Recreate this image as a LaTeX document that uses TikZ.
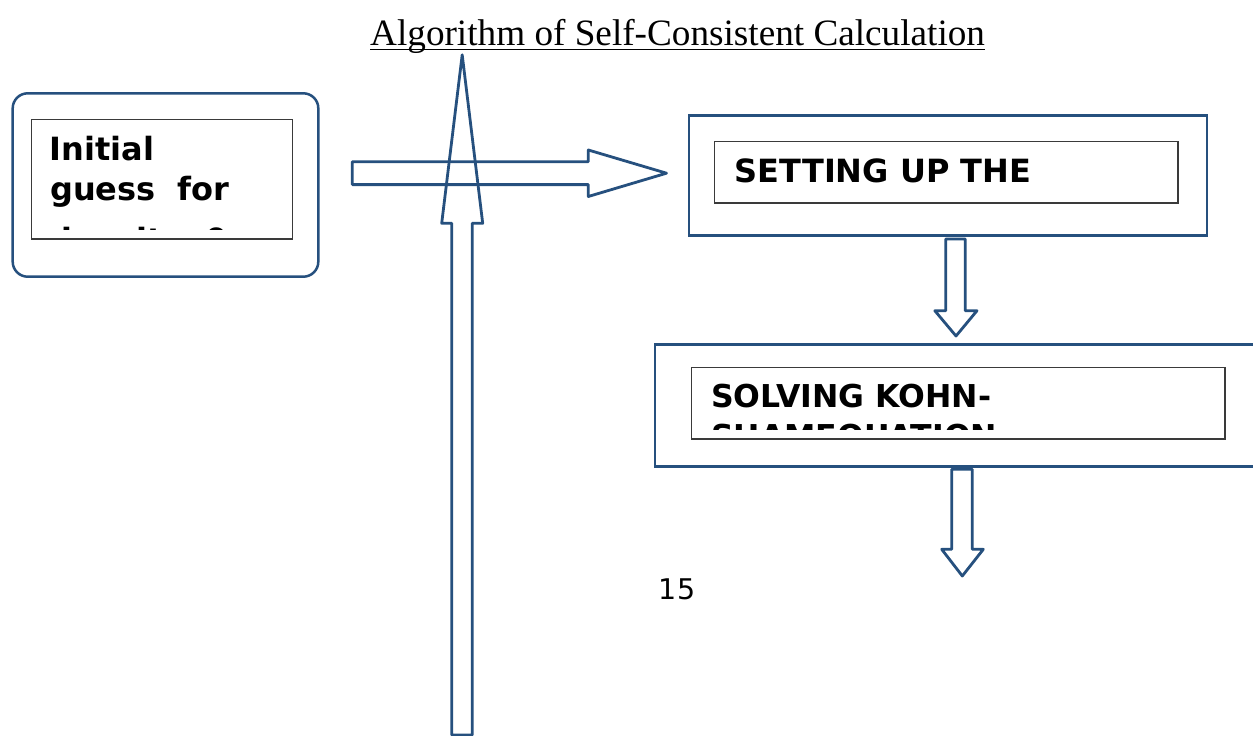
\documentclass[tikz,border=0pt]{standalone}
\usepackage{fontspec}
\setmainfont{Liberation Serif}
\newfontfamily\dejavu{DejaVu Sans}
\definecolor{boxblue}{HTML}{26507E}
\definecolor{innergray}{HTML}{3A3A3A}
\tikzset{
  outerbox/.style={draw=boxblue, line width=2.5pt, fill=white, inner sep=0pt},
  innerbox/.style={draw=innergray, line width=1.3pt, inner sep=0pt},
  boxtext/.style={anchor=base west, inner sep=0pt, font=\dejavu\bfseries\fontsize{32}{38}\selectfont},
  boxtextsm/.style={anchor=base west, inner sep=0pt, font=\dejavu\bfseries\fontsize{31.5}{38}\selectfont},
  blockarrow/.style={draw=boxblue, line width=2.8pt, line join=round}
}
\begin{document}
\begin{tikzpicture}[x=1pt,y=-1pt]
\useasboundingbox (0,0) rectangle (1253,736);
\fill[white] (0,0) rectangle (1253,736);

% title
\node[anchor=base west, inner sep=0pt, font=\fontsize{37.2}{44}\selectfont] (title) at (370,45) {Algorithm of Self-Consistent Calculation};
\draw[line width=1.8pt] ([yshift=-4.5pt]title.base west) -- ([yshift=-4.5pt]title.base east);

% initial guess box
\node[outerbox, rounded corners=15pt, minimum width=305.6pt, minimum height=183.4pt] (initouter) at (165.5,185) {};
\node[innerbox, minimum width=260.6pt, minimum height=119.7pt] (initinner) at (162,179.2) {};
\node[boxtext] (inittexta) at (49.5,160) {Initial};
\node[boxtext] (inittextb) at (50,200.5) {guess~~for};
\begin{scope}
\clip (31.7,119.3) rectangle (292.3,229.8);
\node[boxtext] (inittextc) at (49.5,251.5) {density~~0};
\end{scope}

% setting up box
\node[outerbox, minimum width=518pt, minimum height=120pt] (setouter) at (948,175.5) {};
\node[innerbox, minimum width=463.5pt, minimum height=61.5pt] (setinner) at (946.25,172.25) {};
\node[boxtext] (settext) at (734.6,182.5) {SETTING UP THE};

% solving box
\node[outerbox, minimum width=615pt, minimum height=122.4pt] (solouter) at (962.5,405.5) {};
\node[innerbox, minimum width=533.3pt, minimum height=71.3pt] (solinner) at (958.35,403.35) {};
\node[boxtextsm] (soltexta) at (711,407.7) {SOLVING KOHN-};
\begin{scope}
\clip (691.7,367.7) rectangle (1225,429.2);
\node[boxtextsm] (soltextb) at (711,447.2) {SHAMEQUATION};
\end{scope}

% block arrows
\draw[blockarrow] (352.3,161.7) -- (588.3,161.7) -- (588.3,150) -- (666.5,173.2)
  -- (588.3,196.5) -- (588.3,184.6) -- (352.3,184.6) -- cycle;
\draw[blockarrow] (451.7,735) -- (451.7,223.3) -- (441.7,223.3) -- (462.2,54.8)
  -- (482.7,223.3) -- (472.3,223.3) -- (472.3,735) -- cycle;
\draw[blockarrow] (945.7,239) -- (965.3,239) -- (965.3,310.7) -- (977,310.7)
  -- (956,336) -- (934.8,310.7) -- (945.7,310.7) -- cycle;
\draw[blockarrow] (951.7,469.3) -- (972.3,469.3) -- (972.3,549.3) -- (983.3,549.3)
  -- (962.3,576) -- (941.7,549.3) -- (951.7,549.3) -- cycle;

% page number
\node[anchor=base west, inner sep=0pt, font=\dejavu\fontsize{28.5}{34}\selectfont] (pagenum) at (658.7,599.3) {15};
\end{tikzpicture}
\end{document}
